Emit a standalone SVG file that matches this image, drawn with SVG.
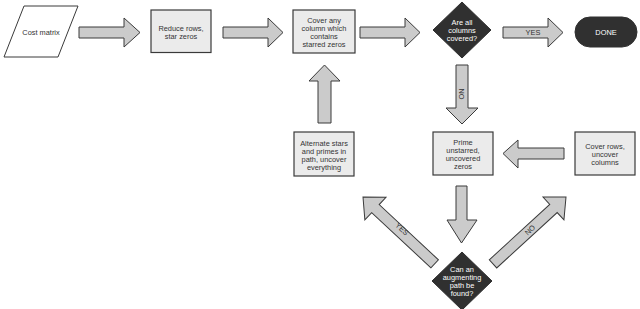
<svg xmlns="http://www.w3.org/2000/svg" width="640" height="309" viewBox="0 0 640 309">
<style>
.box{fill:#ebebeb;stroke:#3a3a3a;stroke-width:1.2}
.dark{fill:#303030;stroke:#303030;stroke-width:1}
.arr{fill:#cbcbcb;stroke:#3a3a3a;stroke-width:1}
text{font-family:"Liberation Sans",Arial,sans-serif;font-size:7.4px;fill:#333;text-anchor:middle}
.w{fill:#ffffff}
.lbl{font-size:7.4px;fill:#333}
</style>
<rect width="640" height="309" fill="#ffffff"/>
<g id="connectors">
  <path class="arr" d="M79,27 H124 V18 L140,32.5 L124,47 V38 H79 Z"/>
  <path class="arr" d="M223,27 H268 V18 L283,32.5 L268,47 V38 H223 Z"/>
  <path class="arr" d="M360,27 H405 V18 L420,32.5 L405,47 V38 H360 Z"/>
  <path class="arr" d="M503,27 H548 V18 L563,32.5 L548,47 V38 H503 Z"/>
  <text class="lbl" x="533" y="35">YES</text>
  <path class="arr" d="M456,65 V108 H446 L462,124 L478,108 H468 V65 Z"/>
  <text class="lbl" transform="translate(462,94) rotate(90)" y="2.6">NO</text>
  <path class="arr" d="M318,123 V81 H309 L324.5,65 L340,81 H331 V123 Z"/>
  <path class="arr" d="M564,148 H518 V140 L503,153.5 L518,168 V159 H564 Z"/>
  <path class="arr" d="M456,186 V220 H447 L461.5,243 L477,220 H467 V186 Z"/>
  <path class="arr" transform="translate(363,197) rotate(-137)" d="M-98,-5.5 H-17 V-15.5 L0,0 L-17,15.5 V5.5 H-98 Z"/>
  <text class="lbl" transform="translate(402,229) rotate(43)" y="2.6">YES</text>
  <path class="arr" transform="translate(566,197) rotate(-42.5)" d="M-99,-5.5 H-17 V-15.5 L0,0 L-17,15.5 V5.5 H-99 Z"/>
  <text class="lbl" transform="translate(530,230) rotate(-42.5)" y="2.6">NO</text>
</g>
<g id="cost-matrix">
  <polygon points="24,6 78,6 58,57 4,57" fill="#ffffff" stroke="#3a3a3a" stroke-width="1"/>
  <text x="41" y="34.5">Cost matrix</text>
</g>
<g id="reduce-rows">
  <rect class="box" x="151" y="10" width="60" height="42.5"/>
  <text x="181" y="30.5">Reduce rows,</text>
  <text x="181" y="38.5">star zeros</text>
</g>
<g id="cover-columns">
  <rect class="box" x="293" y="10" width="62" height="43"/>
  <text x="324" y="22.5">Cover any</text>
  <text x="324" y="30.5">column which</text>
  <text x="324" y="38.5">contains</text>
  <text x="324" y="46.5">starred zeros</text>
</g>
<g id="all-covered">
  <polygon class="dark" points="462,2 491,30 462,58 433,30"/>
  <text class="w" x="462" y="24.5">Are all</text>
  <text class="w" x="462" y="32.5">columns</text>
  <text class="w" x="462" y="40.5">covered?</text>
</g>
<g id="done">
  <rect class="dark" x="575" y="17" width="62" height="30" rx="15" ry="15"/>
  <text class="w" x="606" y="35">DONE</text>
</g>
<g id="alternate">
  <rect class="box" x="294" y="132" width="60" height="44"/>
  <text x="324" y="145.5">Alternate stars</text>
  <text x="324" y="153.5">and primes in</text>
  <text x="324" y="161.5">path, uncover</text>
  <text x="324" y="169.5">everything</text>
</g>
<g id="prime">
  <rect class="box" x="433" y="132" width="60" height="43"/>
  <text x="463" y="144.5">Prime</text>
  <text x="463" y="152.5">unstarred,</text>
  <text x="463" y="160.5">uncovered</text>
  <text x="463" y="168.5">zeros</text>
</g>
<g id="cover-rows">
  <rect class="box" x="575" y="132" width="60" height="43"/>
  <text x="605" y="149">Cover rows,</text>
  <text x="605" y="157">uncover</text>
  <text x="605" y="165">columns</text>
</g>
<g id="augmenting">
  <polygon class="dark" points="462,252 492,281 462,310 432,281"/>
  <text class="w" x="462" y="271.5">Can an</text>
  <text class="w" x="462" y="279.5">augmenting</text>
  <text class="w" x="462" y="287.5">path be</text>
  <text class="w" x="462" y="295.5">found?</text>
</g>
</svg>
